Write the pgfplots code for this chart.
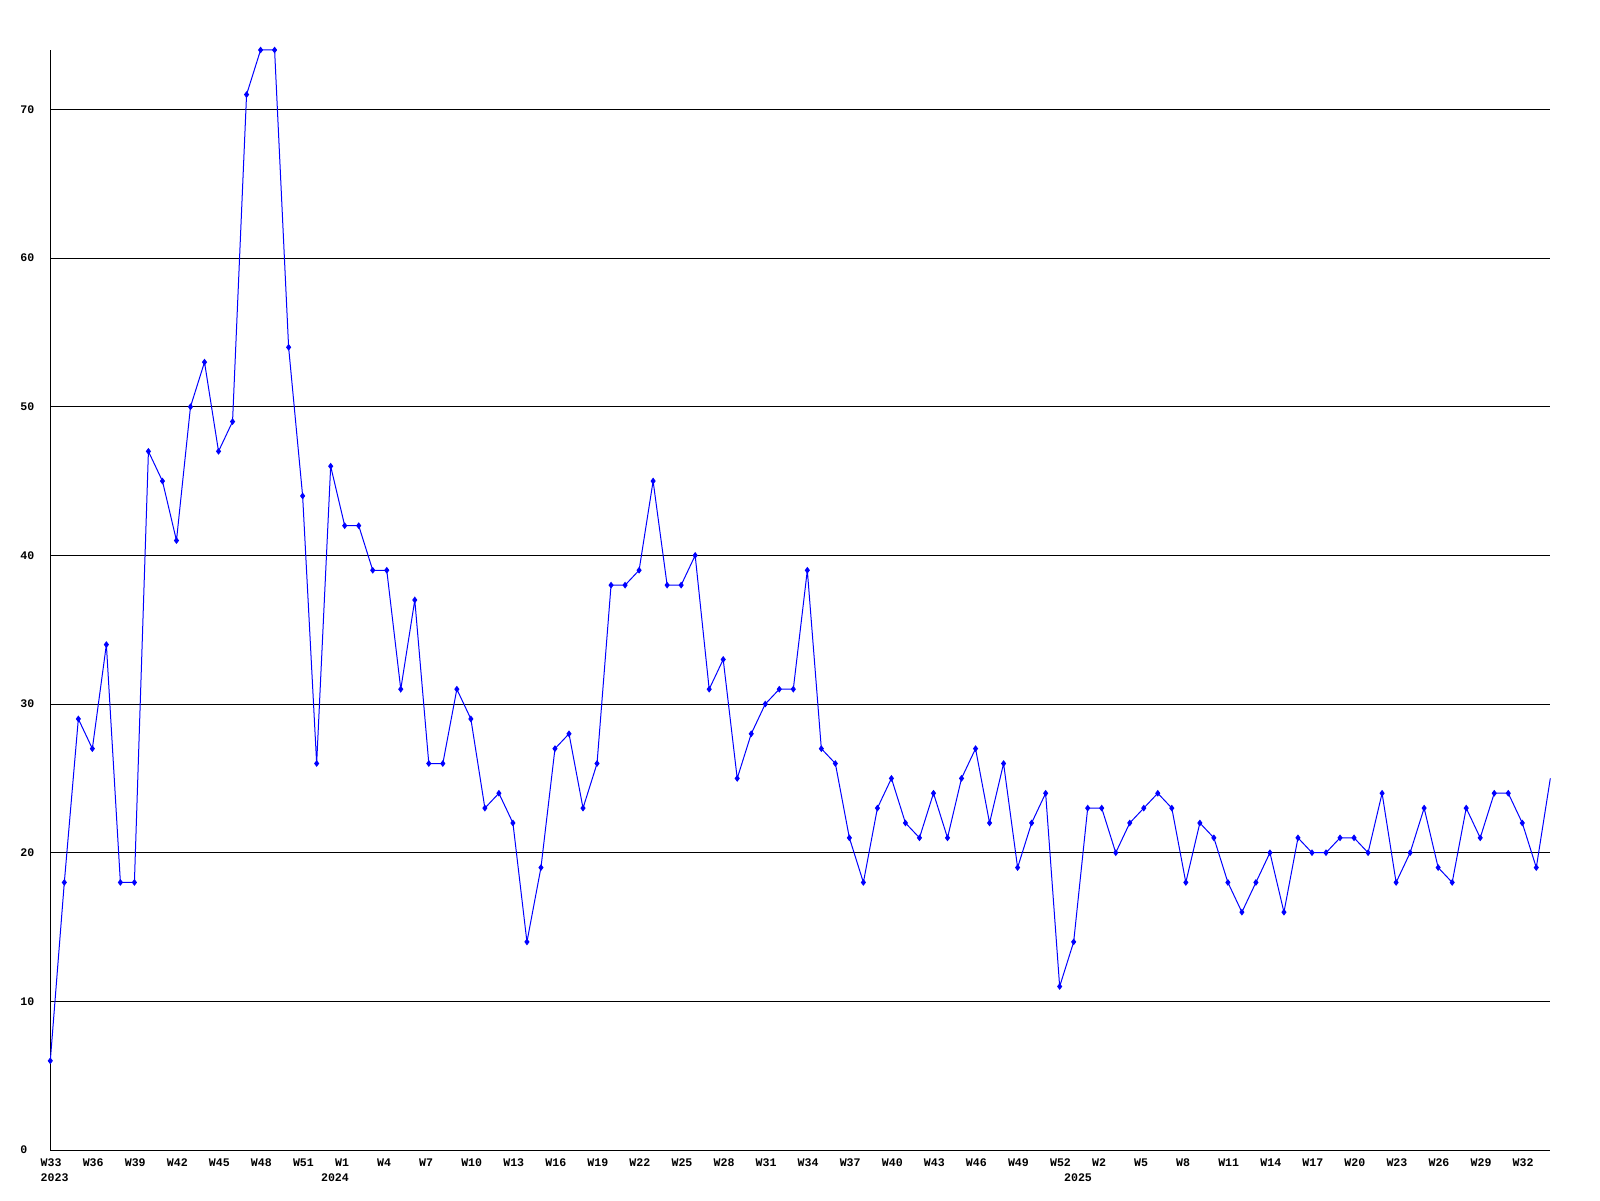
\documentclass[border=0pt]{standalone}
\usepackage{fontspec}
\setmonofont{Liberation Mono}
\usepackage{pgfplots}
\pgfplotsset{compat=1.18}
\begin{document}
\begin{tikzpicture}
\useasboundingbox (0,0) rectangle (800pt,600pt);
\begin{axis}[
  at={(25.15pt,25pt)}, anchor=south west,
  scale only axis, width=750pt, height=550pt,
  xmin=0, xmax=107, ymin=0, ymax=74,
  axis lines=left,
  axis line style={-, black, line width=0.5pt},
  ytick={0,10,...,70},
  ymajorgrids,
  grid style={black, line width=0.5pt},
  major tick length=0pt,
  /pgf/number format/assume math mode=true,
  ticklabel style={font=\ttfamily\bfseries\fontsize{5.8}{6}\selectfont, inner sep=0pt},
  yticklabel style={anchor=west, xshift=-15.15pt},
  xticklabel style={anchor=north west, xshift=-5pt, yshift=-4.3pt},
  xtick={0,3,...,105},
  xticklabels={W33,W36,W39,W42,W45,W48,W51,W1,W4,W7,W10,W13,W16,W19,W22,W25,W28,W31,W34,W37,W40,W43,W46,W49,W52,W2,W5,W8,W11,W14,W17,W20,W23,W26,W29,W32},
  extra x ticks={0,20,73},
  extra x tick labels={2023,2024,2025},
  extra x tick style={xticklabel style={yshift=-7.3pt}},
  clip=false,
]
\addplot[color={rgb,255:red,0;green,0;blue,255}, line width=0.5pt, mark=diamond*, mark size=1.3pt, mark indices={1,...,107}] coordinates {
(0,6) (1,18) (2,29) (3,27) (4,34) (5,18) (6,18) (7,47) (8,45) (9,41)
(10,50) (11,53) (12,47) (13,49) (14,71) (15,74) (16,74) (17,54) (18,44) (19,26)
(20,46) (21,42) (22,42) (23,39) (24,39) (25,31) (26,37) (27,26) (28,26) (29,31)
(30,29) (31,23) (32,24) (33,22) (34,14) (35,19) (36,27) (37,28) (38,23) (39,26)
(40,38) (41,38) (42,39) (43,45) (44,38) (45,38) (46,40) (47,31) (48,33) (49,25)
(50,28) (51,30) (52,31) (53,31) (54,39) (55,27) (56,26) (57,21) (58,18) (59,23)
(60,25) (61,22) (62,21) (63,24) (64,21) (65,25) (66,27) (67,22) (68,26) (69,19)
(70,22) (71,24) (72,11) (73,14) (74,23) (75,23) (76,20) (77,22) (78,23) (79,24)
(80,23) (81,18) (82,22) (83,21) (84,18) (85,16) (86,18) (87,20) (88,16) (89,21)
(90,20) (91,20) (92,21) (93,21) (94,20) (95,24) (96,18) (97,20) (98,23) (99,19)
(100,18) (101,23) (102,21) (103,24) (104,24) (105,22) (106,19) (107,25)
};
\end{axis}
\end{tikzpicture}
\end{document}
